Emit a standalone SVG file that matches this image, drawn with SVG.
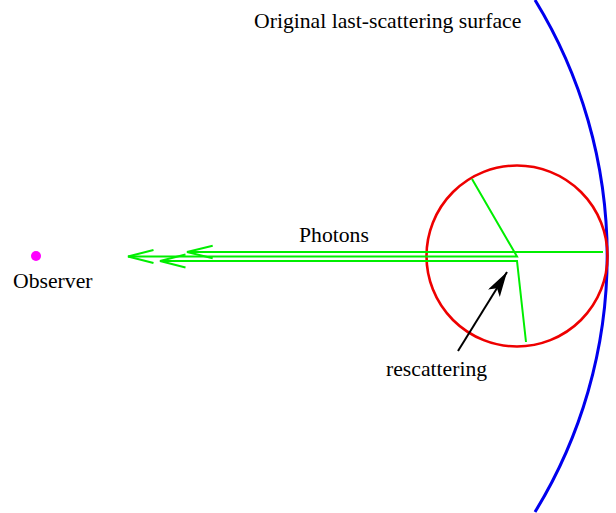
<svg xmlns="http://www.w3.org/2000/svg" width="616" height="513" viewBox="0 0 616 513">
<defs>
<style>
text{font-family:"Liberation Serif","Times New Roman",serif;font-size:21.7px;fill:#000}
.ph{fill:none;stroke:#00ee00;stroke-width:2}
</style>
<marker id="ah" markerWidth="30" markerHeight="20" refX="25" refY="7" orient="auto" markerUnits="userSpaceOnUse">
<path d="M0,0 L25,7 L0,14 L6,7 Z" fill="#000"/>
</marker>
</defs>
<rect width="616" height="513" fill="#fff"/>
<g id="surface">
<path d="M535,0 A490,490 0 0 1 535,512" fill="none" stroke="#0000ee" stroke-width="3"/>
</g>
<g id="scatter-sphere">
<circle cx="517" cy="256" r="90.5" fill="none" stroke="#ee0000" stroke-width="2.6"/>
</g>
<g id="observer">
<circle cx="36" cy="256" r="5" fill="#ff00ff"/>
<text x="13" y="288">Observer</text>
</g>
<g id="labels">
<text x="254" y="28">Original last-scattering surface</text>
<text x="299" y="242">Photons</text>
<text x="386" y="376">rescattering</text>
</g>
<g id="connectors">
<polyline class="ph" points="603,252 187,252"/>
<polyline class="ph" points="212.7,245.7 187,252 212.7,258.3"/>
<polyline class="ph" points="472,179 517,256.5 128,256.5"/>
<polyline class="ph" points="153.5,250 128,256.5 153.5,263"/>
<polyline class="ph" points="526,342 517,261 160,261"/>
<polyline class="ph" points="185.5,254.5 160,261 185.5,267.5"/>
<line x1="458" y1="351" x2="507" y2="272" stroke="#000" stroke-width="2" marker-end="url(#ah)"/>
</g>
</svg>
